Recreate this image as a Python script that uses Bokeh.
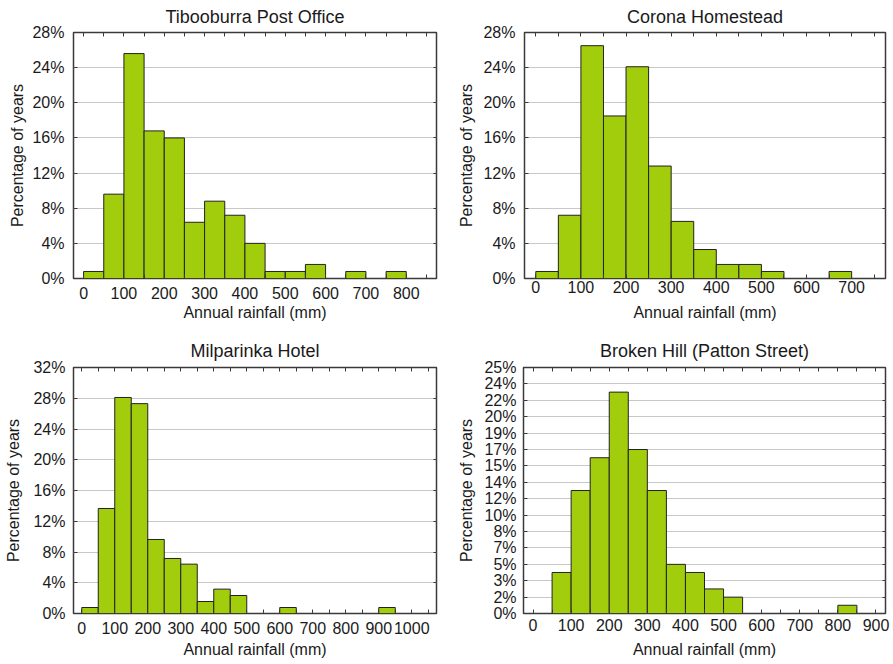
from bokeh.plotting import figure
from bokeh.models import (FixedTicker, LinearAxis, Range1d, ColumnDataSource,
                          CustomJSTickFormatter)
from bokeh.layouts import column, row
from bokeh.embed import file_html
from bokeh.resources import INLINE

FONT = "Liberation Sans"
BAR_FILL = "#a2cd0c"
BAR_LINE = "#222222"
FRAME = "#3a3a3a"
GRID = "#c8c8c8"
TEXT = "#1a1a1a"
BIN_WIDTH = 50

# ---------------- data ----------------
tib_title = "Tibooburra Post Office"
tib_bin_start = [0, 50, 100, 150, 200, 250, 300, 350, 400, 450, 500, 550, 600, 650, 700, 750]
tib_pct = [0.8, 9.6, 25.6, 16.8, 16.0, 6.4, 8.8, 7.2, 4.0, 0.8, 0.8, 1.6, 0.0, 0.8, 0.0, 0.8]
tib_x_ticks = [0, 100, 200, 300, 400, 500, 600, 700, 800]
tib_x_minor = [50, 150, 250, 350, 450, 550, 650, 750, 850]
tib_y_ticks = [0, 4, 8, 12, 16, 20, 24, 28]
tib_y_labels = ["0%", "4%", "8%", "12%", "16%", "20%", "24%", "28%"]

cor_title = "Corona Homestead"
cor_bin_start = [0, 50, 100, 150, 200, 250, 300, 350, 400, 450, 500, 550, 600, 650]
cor_pct = [0.8, 7.2, 26.5, 18.5, 24.1, 12.8, 6.5, 3.3, 1.6, 1.6, 0.8, 0.0, 0.0, 0.8]
cor_x_ticks = [0, 100, 200, 300, 400, 500, 600, 700]
cor_x_minor = [50, 150, 250, 350, 450, 550, 650, 750]
cor_y_ticks = [0, 4, 8, 12, 16, 20, 24, 28]
cor_y_labels = ["0%", "4%", "8%", "12%", "16%", "20%", "24%", "28%"]

mil_title = "Milparinka Hotel"
mil_bin_start = [0, 50, 100, 150, 200, 250, 300, 350, 400, 450, 500, 550, 600, 650,
                 700, 750, 800, 850, 900]
mil_pct = [0.78, 13.66, 28.1, 27.3, 9.63, 7.16, 6.42, 1.56, 3.17, 2.34, 0.0, 0.0, 0.78, 0.0,
           0.0, 0.0, 0.0, 0.0, 0.78]
mil_x_ticks = [0, 100, 200, 300, 400, 500, 600, 700, 800, 900, 1000]
mil_x_minor = [50, 150, 250, 350, 450, 550, 650, 750, 850, 950, 1050]
mil_y_ticks = [0, 4, 8, 12, 16, 20, 24, 28, 32]
mil_y_labels = ["0%", "4%", "8%", "12%", "16%", "20%", "24%", "28%", "32%"]

bh_title = "Broken Hill (Patton Street)"
bh_bin_start = [50, 100, 150, 200, 250, 300, 350, 400, 450, 500, 550, 600, 650, 700, 750, 800]
bh_pct = [4.24, 12.71, 16.10, 22.88, 16.95, 12.71, 5.08, 4.24, 2.54, 1.69, 0.0, 0.0, 0.0,
          0.0, 0.0, 0.85]
bh_x_ticks = [0, 100, 200, 300, 400, 500, 600, 700, 800, 900]
bh_x_minor = [50, 150, 250, 350, 450, 550, 650, 750, 850]
bh_y_ticks = [0, 1.695, 3.39, 5.085, 6.78, 8.475, 10.17, 11.865, 13.56, 15.255, 16.95,
              18.645, 20.34, 22.035, 23.73, 25.425]
bh_y_labels = ["0%", "2%", "3%", "5%", "7%", "8%", "10%", "12%", "14%", "15%", "17%",
               "19%", "20%", "22%", "24%", "25%"]


def empty_axis(ticker, tick_len):
    ax = LinearAxis(ticker=ticker,
                    formatter=CustomJSTickFormatter(code="return ''"),
                    major_tick_in=tick_len, major_tick_out=0,
                    minor_tick_in=tick_len, minor_tick_out=0,
                    major_tick_line_color=FRAME, minor_tick_line_color=FRAME,
                    major_label_standoff=0, axis_line_color=None,
                    major_label_text_font_size="1px")
    return ax


def panel(title, starts, pct, x_range, y_range, x_ticks, x_minor, y_ticks, y_labels,
          width, height, borders, xs, xas, ys, yas, title_standoff):
    bl, br, bt, bb = borders
    p = figure(width=width, height=height,
               x_range=Range1d(*x_range), y_range=Range1d(*y_range),
               output_backend="svg", toolbar_location=None,
               min_border_left=bl, min_border_right=br,
               min_border_top=bt, min_border_bottom=bb)
    p.background_fill_color = "white"
    p.border_fill_color = "white"
    p.outline_line_color = FRAME
    p.outline_line_width = 1.5

    keep = [i for i, v in enumerate(pct) if v > 0]
    src = ColumnDataSource(dict(
        left=[starts[i] for i in keep],
        right=[starts[i] + BIN_WIDTH for i in keep],
        top=[pct[i] for i in keep],
    ))
    p.quad(left="left", right="right", bottom=0, top="top", source=src,
           fill_color=BAR_FILL, line_color=BAR_LINE, line_width=1)

    xt = FixedTicker(ticks=x_ticks, minor_ticks=x_minor)
    yt = FixedTicker(ticks=y_ticks)

    xa = p.xaxis[0]
    xa.ticker = xt
    xa.axis_label = "Annual rainfall (mm)"
    xa.major_tick_in = 4
    xa.major_tick_out = 0
    xa.minor_tick_in = 4
    xa.minor_tick_out = 0
    xa.major_tick_line_color = FRAME
    xa.minor_tick_line_color = FRAME
    xa.axis_line_color = None
    xa.major_label_standoff = xs
    xa.axis_label_standoff = xas

    ya = p.yaxis[0]
    ya.ticker = yt
    ya.major_label_overrides = dict(zip(y_ticks, y_labels))
    ya.axis_label = "Percentage of years"
    ya.major_tick_in = 4
    ya.major_tick_out = 0
    ya.minor_tick_line_color = None
    ya.major_tick_line_color = FRAME
    ya.axis_line_color = None
    ya.major_label_standoff = ys
    ya.axis_label_standoff = yas

    for ax in (xa, ya):
        ax.major_label_text_font = FONT
        ax.major_label_text_font_size = "16px"
        ax.major_label_text_color = TEXT
        ax.axis_label_text_font = FONT
        ax.axis_label_text_font_size = "16px"
        ax.axis_label_text_font_style = "normal"
        ax.axis_label_text_color = TEXT

    p.add_layout(empty_axis(FixedTicker(ticks=x_ticks, minor_ticks=x_minor), 4), "above")
    p.add_layout(empty_axis(FixedTicker(ticks=y_ticks), 3), "right")

    p.xgrid.visible = False
    p.ygrid.ticker = yt
    p.ygrid.grid_line_color = GRID
    p.ygrid.grid_line_width = 1

    p.title.text = title
    p.title.align = "center"
    p.title.vertical_align = "top"
    p.title.text_font = FONT
    p.title.text_font_size = "18px"
    p.title.text_font_style = "normal"
    p.title.text_color = TEXT
    p.title.standoff = title_standoff
    return p


p1 = panel(tib_title, tib_bin_start, tib_pct, (-25, 875), (0, 28),
           tib_x_ticks, tib_x_minor, tib_y_ticks, tib_y_labels,
           446, 330, (73, 10, 32, 52), 8, 2, 9, 3, 8)
p2 = panel(cor_title, cor_bin_start, cor_pct, (-25, 775), (0, 28),
           cor_x_ticks, cor_x_minor, cor_y_ticks, cor_y_labels,
           447, 330, (78, 8, 32, 52), 2, 8, 9, 5, 8)
p3 = panel(mil_title, mil_bin_start, mil_pct, (-25, 1075), (0, 32),
           mil_x_ticks, mil_x_minor, mil_y_ticks, mil_y_labels,
           446, 333, (73, 10, 37, 50), 8, 4, 8, 8, 9)
p4 = panel(bh_title, bh_bin_start, bh_pct, (-25, 925), (0, 25.425),
           bh_x_ticks, bh_x_minor, bh_y_ticks, bh_y_labels,
           447, 333, (77, 8, 37, 50), 5, 7, 7, 6, 9)

layout = column(row(p1, p2), row(p3, p4))

open("out.html", "w").write(file_html(layout, INLINE))
